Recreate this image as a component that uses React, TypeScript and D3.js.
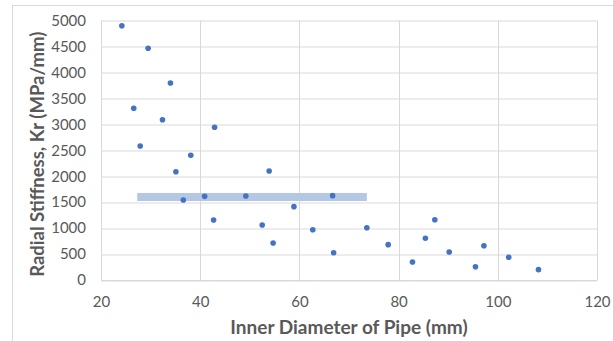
// Scatter of radial stiffness against pipe inner diameter, with a
// horizontal band marking the mean stiffness over the lower diameter range.
import { useEffect, useRef } from "react";
import * as d3 from "d3";

const diameters = [
  24.2, 29.5, 34.0, 26.6, 32.4, 42.9, 27.9, 38.1, 35.1, 53.9,
  36.6, 40.9, 49.2, 42.7, 52.5, 54.7, 58.9, 66.7, 62.7, 73.6,
  66.9, 77.9, 87.3, 85.4, 82.8, 90.2, 97.2, 95.5, 102.2, 108.2,
];
const stiffness = [
  4900, 4464, 3796, 3308, 3089, 2942, 2582, 2402, 2087, 2100,
  1541, 1612, 1618, 1156, 1060, 713, 1413, 1625, 969, 1008,
  526, 681, 1162, 803, 347, 539, 661, 256, 437, 199,
];
// mean band
const bandFrom = 27.3;
const bandTo = 73.6;
const bandValue = 1600;

const xTicks = [20, 40, 60, 80, 100, 120];
const yTicks = [0, 500, 1000, 1500, 2000, 2500, 3000, 3500, 4000, 4500, 5000];

const W = 613;
const H = 341;
const FONT = "Lato, 'Open Sans', sans-serif";
const TEXT = "#595959";
const GRID = "#d9d9d9";

export default function App() {
  const svgRef = useRef<SVGSVGElement | null>(null);

  useEffect(() => {
    const svg = d3.select(svgRef.current);
    svg.selectAll("*").remove();

    const margin = { top: 20.5, right: 16, bottom: 61, left: 101 };
    const w = W - margin.left - margin.right;
    const h = H - margin.top - margin.bottom;

    svg
      .append("rect")
      .attr("x", 12.5)
      .attr("y", 5.5)
      .attr("width", W)
      .attr("height", H)
      .attr("fill", "#fff")
      .attr("stroke", GRID);

    const g = svg
      .append("g")
      .attr("transform", `translate(${margin.left},${margin.top})`);

    const x = d3.scaleLinear().domain([20, 120]).range([0, w]);
    const y = d3.scaleLinear().domain([0, 5000]).range([h, 0]);

    // gridlines
    g.append("g")
      .selectAll("line")
      .data(yTicks)
      .join("line")
      .attr("x1", 0)
      .attr("x2", w)
      .attr("y1", (d) => Math.round(y(d)) + 0.5)
      .attr("y2", (d) => Math.round(y(d)) + 0.5)
      .attr("stroke", GRID)
      .attr("stroke-width", 1);
    g.append("g")
      .selectAll("line")
      .data(xTicks)
      .join("line")
      .attr("x1", (d) => Math.round(x(d)) + 0.5)
      .attr("x2", (d) => Math.round(x(d)) + 0.5)
      .attr("y1", 0)
      .attr("y2", h)
      .attr("stroke", GRID)
      .attr("stroke-width", 1);

    // axes
    const xAxis = g
      .append("g")
      .attr("transform", `translate(0,${h})`)
      .call(d3.axisBottom(x).tickValues(xTicks).tickSize(0).tickPadding(16));
    const yAxis = g
      .append("g")
      .call(
        d3
          .axisLeft(y)
          .tickValues(yTicks)
          .tickFormat(d3.format("d"))
          .tickSize(0)
          .tickPadding(15),
      );
    for (const ax of [xAxis, yAxis]) {
      ax.select(".domain").attr("stroke", GRID);
      ax.selectAll("text")
        .attr("fill", TEXT)
        .attr("font-family", FONT)
        .attr("font-size", 15);
    }

    // mean band
    g.append("line")
      .attr("x1", x(bandFrom))
      .attr("x2", x(bandTo))
      .attr("y1", y(bandValue))
      .attr("y2", y(bandValue))
      .attr("stroke", "#b4c8e6")
      .attr("stroke-width", 8);

    g.append("g")
      .selectAll("circle")
      .data(diameters.map((d, i) => [d, stiffness[i]]))
      .join("circle")
      .attr("cx", (d) => x(d[0]))
      .attr("cy", (d) => y(d[1]))
      .attr("r", 2.8)
      .attr("fill", "#4472c4");

    svg
      .append("text")
      .attr("x", margin.left + w / 2)
      .attr("y", 334)
      .attr("text-anchor", "middle")
      .attr("font-family", FONT)
      .attr("font-weight", "bold")
      .attr("font-size", 19)
      .attr("fill", TEXT)
      .text("Inner Diameter of Pipe (mm)");

    svg
      .append("text")
      .attr("transform", `translate(44,${margin.top + h / 2 + 4}) rotate(-90)`)
      .attr("text-anchor", "middle")
      .attr("font-family", FONT)
      .attr("font-weight", "bold")
      .attr("font-size", 18.5)
      .attr("fill", TEXT)
      .text("Radial Stiffness, Kr (MPa/mm)");
  }, []);

  return (
    <svg
      ref={svgRef}
      width={W}
      height={H}
      style={{ position: "absolute", left: 0, top: 0 }}
    />
  );
}
